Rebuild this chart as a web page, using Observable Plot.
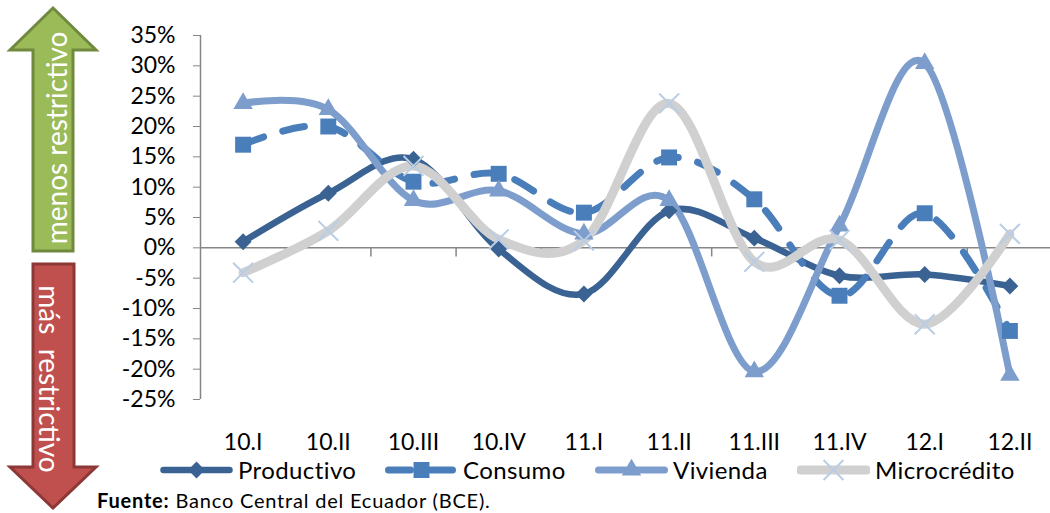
<!DOCTYPE html>
<html><head><meta charset="utf-8">
<script src="https://cdn.jsdelivr.net/npm/d3@7"></script>
<script src="https://cdn.jsdelivr.net/npm/@observablehq/plot@0.6"></script>
<style>
html,body{margin:0;padding:0;background:#fff;}
#wrap{position:relative;width:1050px;height:513px;overflow:hidden;font-family:Lato,sans-serif;background:#fff;color:#000}
#chart{position:absolute;left:0;top:0}
#arrows{position:absolute;left:0;top:0}
#legend{position:absolute;left:0;top:458px;width:1050px;height:24px;font-size:24px;line-height:1;white-space:nowrap}
.item{position:absolute;top:0;display:flex;align-items:center;letter-spacing:0.4px}
.item svg{margin-right:5px;display:block}
#source{position:absolute;left:97px;top:490px;font-size:20px;line-height:1;white-space:nowrap;letter-spacing:0.8px}
</style></head>
<body><div id="wrap"><div id="chart"></div><svg id="arrows" width="110" height="513"></svg><div id="legend"></div><div id="source"><b>Fuente:</b> Banco Central del Ecuador (BCE).</div></div>
<script>
// ---- data ----
const categories = ["10.I","10.II","10.III","10.IV","11.I","11.II","11.III","11.IV","12.I","12.II"];
const productivo = [1.0, 9.0, 14.6, -0.2, -7.6, 6.1, 1.6, -4.6, -4.4, -6.3];
const consumo    = [17.0, 20.0, 10.9, 12.2, 5.8, 14.9, 8.0, -7.9, 5.7, -13.7];
const vivienda   = [23.8, 22.8, 7.8, 9.4, 2.3, 7.8, -20.4, 3.6, 30.4, -21.0];
const micro      = [-4.1, 2.8, 13.5, 1.4, 1.2, 23.8, -2.3, 1.3, -12.6, 2.3];
const seriesNames = ["Productivo","Consumo","Vivienda","Microcrédito"];
const yTicks = [-25,-20,-15,-10,-5,0,5,10,15,20,25,30,35];

// ---- styles per series ----
const styles = {
  "Productivo":   {line:"#3A6394", width:6.5, dash:null, symbol:"diamond2", r:7.6, fill:"#3A6394", mstroke:"none", msw:0},
  "Consumo":      {line:"#4A7EBB", width:7, dash:"22,20", symbol:"square", r:9, fill:"#4A7EBB", mstroke:"none", msw:0},
  "Vivienda":     {line:"#7D9DCC", width:7, dash:null, symbol:"triangle", r:7.2, fill:"#7D9DCC", mstroke:"none", msw:0},
  "Microcrédito": {line:"#D0D0D0", width:9, dash:null, symbol:"times", r:9.1, fill:"none", mstroke:"#B9CDE5", msw:2}
};
const values = {"Productivo":productivo,"Consumo":consumo,"Vivienda":vivienda,"Microcrédito":micro};
const rows = s => values[s].map((v,i)=>({i, v, s}));

const lineMarks = seriesNames.map(s => {
  const st = styles[s];
  return Plot.line(rows(s), {x:"i", y:"v", curve:"cardinal", stroke:st.line, strokeWidth:st.width,
    strokeLinecap:"round", strokeLinejoin:"round", strokeDasharray: st.dash || undefined});
});
const dotMarks = seriesNames.map(s => {
  const st = styles[s];
  return Plot.dot(rows(s), {x:"i", y:"v", symbol:()=>st.symbol, r:st.r, fill:st.fill, stroke:st.mstroke, strokeWidth:st.msw});
});
const boundaries = d3.range(0.5, categories.length, 1);

const chart = Plot.plot({
  width:1050, height:460,
  marginLeft:200, marginRight:0, marginTop:35, marginBottom:61,
  x:{domain:[-0.5, categories.length-0.5], range:[200,1052], axis:null},
  y:{domain:[-25,35], axis:null},
  style:{fontFamily:"Lato, sans-serif", fontSize:"23px", fontWeight:"400", background:"transparent", overflow:"visible", color:"#000"},
  marks:[
    Plot.axisY({ticks:yTicks, tickSize:7, tickPadding:18, tickFormat:d=>`${d}%`, stroke:"#868686", fill:"#000", label:null}),
    Plot.ruleX([-0.5], {y1:-25, y2:35, stroke:"#868686", strokeWidth:1.5}),
    Plot.ruleY([0], {x1:-0.5, x2:categories.length-0.5, stroke:"#868686", strokeWidth:1.5}),
    Plot.ruleX(boundaries, {x:d=>d, y1:0, y2:-1.5, stroke:"#868686", strokeWidth:1.5}),
    Plot.text(d3.range(categories.length), {x:d=>d, text:i=>categories[i], frameAnchor:"bottom", lineAnchor:"top", dy:34,
      fill:"#000", fontSize:23, fontWeight:400}),
    ...lineMarks,
    ...dotMarks
  ]
});
document.getElementById("chart").appendChild(chart);

// ---- legend ----
const symMap = {diamond2:d3.symbolDiamond2, square:d3.symbolSquare, triangle:d3.symbolTriangle, times:d3.symbolTimes};
const legendLeft = [160, 385, 595, 797];
const legend = d3.select("#legend");
seriesNames.forEach((s, k) => {
  const st = styles[s];
  const it = legend.append("div").attr("class","item").style("left", legendLeft[k] + "px");
  const sv = it.append("svg").attr("width",73).attr("height",24);
  sv.append("line").attr("x1",3.5).attr("x2",69.5).attr("y1",12).attr("y2",12)
    .attr("stroke",st.line).attr("stroke-width",st.width).attr("stroke-linecap","round")
    .attr("stroke-dasharray", st.dash || null);
  sv.append("path").attr("transform","translate(36.5,12)")
    .attr("d", d3.symbol(symMap[st.symbol], Math.PI*st.r*st.r)())
    .attr("fill", st.fill).attr("stroke", st.mstroke).attr("stroke-width", st.msw);
  it.append("span").text(s);
});

// ---- decorative arrows ----
const a = d3.select("#arrows");
a.append("polygon").attr("points","53,8 96,50 73,50 73,251 33,251 33,50 10,50")
  .attr("fill","#9BBB59").attr("stroke","#71893F").attr("stroke-width",3).attr("stroke-linejoin","miter");
a.append("text").attr("transform","translate(56,138) rotate(-90)").attr("text-anchor","middle")
  .attr("dominant-baseline","central").attr("fill","#fff").attr("font-size",28).attr("font-family","Lato, sans-serif")
  .text("menos restrictivo");
a.append("polygon").attr("points","33,264 74,264 74,467 96,467 53,508 10,467 33,467")
  .attr("fill","#C0504D").attr("stroke","#8C3836").attr("stroke-width",3).attr("stroke-linejoin","miter");
a.append("text").attr("transform","translate(50,379) rotate(90)").attr("text-anchor","middle")
  .attr("dominant-baseline","central").attr("fill","#fff").attr("font-size",28).attr("font-family","Lato, sans-serif")
  .style("white-space","pre").text("más  restrictivo");
</script>
</body></html>
